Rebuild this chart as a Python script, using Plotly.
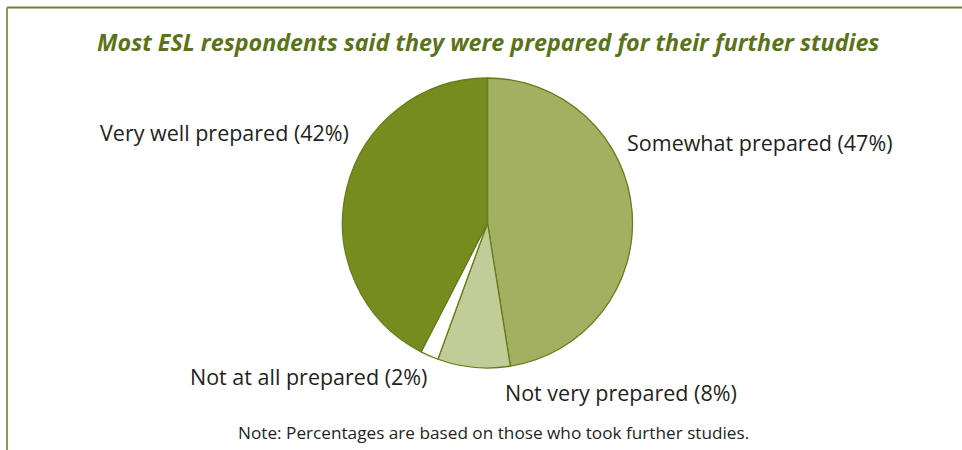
import plotly.graph_objects as go

# Survey responses: how prepared ESL respondents felt for further studies
categories = ["Somewhat prepared", "Not very prepared", "Not at all prepared", "Very well prepared"]
percentages = [47, 8, 2, 42]
slice_colors = ["#A3B062", "#C2CC98", "#FFFFFF", "#778C1E"]

title_text = "Most ESL respondents said they were prepared for their further studies"
note_text = "Note: Percentages are based on those who took further studies."

W, H = 962, 450
OUTLINE = "#677C1A"
TEXT = "#231F20"

# pie placed by pixel centre / radius, converted to paper fractions
cx, cy, r = 487.5, 223, 145

fig = go.Figure(go.Pie(
    labels=categories,
    values=percentages,
    sort=False,
    direction="clockwise",
    rotation=0,
    marker=dict(colors=slice_colors, line=dict(color=OUTLINE, width=1.3)),
    textinfo="none",
    hoverinfo="label+value",
    showlegend=False,
    domain=dict(x=[(cx - r) / W, (cx + r) / W], y=[1 - (cy + r) / H, 1 - (cy - r) / H]),
))

# outside labels: (left x px, centre y px)
label_pos = {
    "Somewhat prepared": (625, 142),
    "Not very prepared": (503, 392),
    "Not at all prepared": (188, 376),
    "Very well prepared": (98, 132),
}
annotations = []
for name, pct in zip(categories, percentages):
    lx, ly = label_pos[name]
    annotations.append(dict(
        x=lx / W, y=1 - ly / H, xref="paper", yref="paper",
        xanchor="left", yanchor="middle", showarrow=False,
        text=f"{name} ({pct}%)",
        font=dict(family="Open Sans", size=21.5, color=TEXT),
    ))

annotations.append(dict(
    x=488 / W, y=1 - 42 / H, xref="paper", yref="paper",
    xanchor="center", yanchor="middle", showarrow=False,
    text=f"<b><i>{title_text}</i></b>",
    font=dict(family="Open Sans", size=23.3, color="#5B7318"),
))
annotations.append(dict(
    x=493 / W, y=1 - 432 / H, xref="paper", yref="paper",
    xanchor="center", yanchor="middle", showarrow=False,
    text=note_text,
    font=dict(family="Open Sans", size=17.2, color=TEXT),
))

# frame: top rule across and left rule down
shapes = [
    dict(type="line", xref="paper", yref="paper", x0=7 / W, x1=1, y0=1 - 7.5 / H, y1=1 - 7.5 / H,
         line=dict(color="#6E8428", width=2)),
    dict(type="line", xref="paper", yref="paper", x0=7 / W, x1=7 / W, y0=0, y1=1 - 7.5 / H,
         line=dict(color="#8A9C4A", width=2)),
]

fig.update_layout(
    width=W, height=H,
    margin=dict(l=0, r=0, t=0, b=0),
    paper_bgcolor="white", plot_bgcolor="white",
    annotations=annotations, shapes=shapes,
)

fig.write_html("out.html")
